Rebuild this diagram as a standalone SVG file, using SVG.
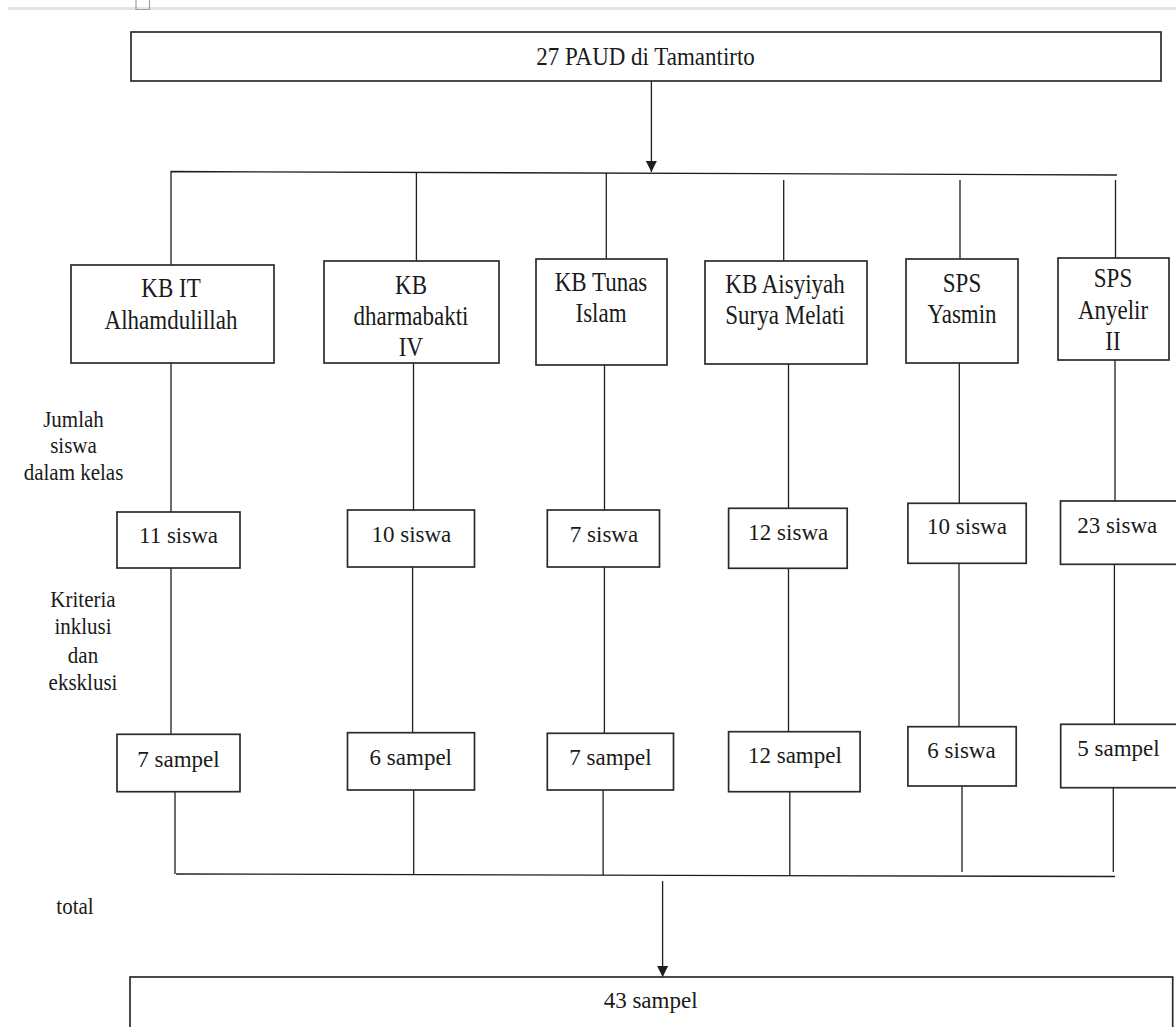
<svg xmlns="http://www.w3.org/2000/svg" width="1176" height="1027" viewBox="0 0 1176 1027">
<style>
.box{fill:#fff;stroke:#2b2b2b;stroke-width:1.7}
.t{font-family:'Liberation Serif','Times New Roman',Times,'DejaVu Serif',serif;font-size:23px;fill:#1a1a1a;text-anchor:middle}
.lbl{font-family:'Liberation Serif','Times New Roman',Times,'DejaVu Serif',serif;font-size:21px;fill:#1a1a1a;text-anchor:middle}
.ln{stroke:#1e1e1e;stroke-width:1.3;fill:none}
</style>
<defs>
<marker id="ah" viewBox="0 0 10 10" refX="10" refY="5" markerWidth="11" markerHeight="11" markerUnits="userSpaceOnUse" orient="auto">
<path d="M0,0 L10,5 L0,10 z" fill="#1e1e1e"/>
</marker>
</defs>
<rect width="1176" height="1027" fill="#fff"/>
<rect x="8" y="7" width="1168" height="3" fill="#e4e4e4"/>
<path d="M136 0 V9.5 H149.5 V0" fill="none" stroke="#a0a0a0" stroke-width="1.2"/>

<g id="connectors">
<line class="ln" x1="651.4" y1="81" x2="651.4" y2="172" marker-end="url(#ah)"/>
<path class="ln" d="M171 265 V171.5 L1117 175"/>
<line class="ln" x1="416.4" y1="172.5" x2="416.4" y2="261"/>
<line class="ln" x1="606.3" y1="173" x2="606.3" y2="259"/>
<line class="ln" x1="783.7" y1="180" x2="783.7" y2="261"/>
<line class="ln" x1="960" y1="180" x2="960" y2="259"/>
<line class="ln" x1="1115.5" y1="180" x2="1115.5" y2="258"/>
<line class="ln" x1="171" y1="363" x2="171" y2="512"/>
<line class="ln" x1="413.5" y1="363" x2="413.5" y2="510"/>
<line class="ln" x1="604.5" y1="365" x2="604.5" y2="510"/>
<line class="ln" x1="788.5" y1="364" x2="788.5" y2="508"/>
<line class="ln" x1="959.3" y1="363" x2="959.3" y2="503"/>
<line class="ln" x1="1115" y1="360" x2="1115" y2="501"/>
<line class="ln" x1="171" y1="568" x2="171" y2="734"/>
<line class="ln" x1="412.6" y1="567" x2="412.6" y2="733"/>
<line class="ln" x1="604.4" y1="567" x2="604.4" y2="733"/>
<line class="ln" x1="788.5" y1="568" x2="788.5" y2="732"/>
<line class="ln" x1="959" y1="563" x2="959" y2="727"/>
<line class="ln" x1="1114.4" y1="564" x2="1114.4" y2="724"/>
<line class="ln" x1="175" y1="792" x2="175" y2="874"/>
<line class="ln" x1="413.7" y1="790" x2="413.7" y2="874.5"/>
<line class="ln" x1="603.1" y1="790" x2="603.1" y2="875"/>
<line class="ln" x1="789.8" y1="792" x2="789.8" y2="875.5"/>
<line class="ln" x1="962" y1="786" x2="962" y2="872"/>
<line class="ln" x1="1113.3" y1="788" x2="1113.3" y2="872"/>
<line class="ln" x1="176" y1="874" x2="1115" y2="876.5"/>
<line class="ln" x1="662.6" y1="881" x2="662.6" y2="977" marker-end="url(#ah)"/>
</g>

<g id="n-top"><rect class="box" x="131" y="32" width="1030" height="49"/><text class="t" transform="translate(645.5 64.5) scale(1 1.08)">27 PAUD di Tamantirto</text></g>

<g id="n-kbit"><rect class="box" x="71" y="265" width="203" height="98"/><text class="t" transform="translate(171 297) scale(1 1.18)">KB IT</text><text class="t" transform="translate(171 328.5) scale(1 1.18)">Alhamdulillah</text></g>
<g id="n-dharma"><rect class="box" x="324" y="261" width="175" height="102"/><text class="t" transform="translate(411 293.5) scale(1 1.18)">KB</text><text class="t" transform="translate(411 325) scale(1 1.18)">dharmabakti</text><text class="t" transform="translate(411 355.5) scale(1 1.18)">IV</text></g>
<g id="n-tunas"><rect class="box" x="536" y="259" width="131" height="106"/><text class="t" transform="translate(601 290.5) scale(1 1.18)">KB Tunas</text><text class="t" transform="translate(601 322) scale(1 1.18)">Islam</text></g>
<g id="n-aisyiyah"><rect class="box" x="705" y="261" width="162" height="103"/><text class="t" transform="translate(785 293) scale(1 1.18)">KB Aisyiyah</text><text class="t" transform="translate(785 323.5) scale(1 1.18)">Surya Melati</text></g>
<g id="n-yasmin"><rect class="box" x="906" y="259" width="112" height="104"/><text class="t" transform="translate(962 292) scale(1 1.18)">SPS</text><text class="t" transform="translate(962 323) scale(1 1.18)">Yasmin</text></g>
<g id="n-anyelir"><rect class="box" x="1058" y="258" width="111" height="102"/><text class="t" transform="translate(1113 287) scale(1 1.18)">SPS</text><text class="t" transform="translate(1113 318.5) scale(1 1.18)">Anyelir</text><text class="t" transform="translate(1113 350) scale(1 1.18)">II</text></g>

<g id="lbl-jumlah"><text class="lbl" transform="translate(73.5 426.7) scale(1 1.1)">Jumlah</text><text class="lbl" transform="translate(73.5 453.3) scale(1 1.1)">siswa</text><text class="lbl" transform="translate(73.5 480) scale(1 1.1)">dalam kelas</text></g>
<g id="lbl-kriteria"><text class="lbl" transform="translate(83 606.7) scale(1 1.1)">Kriteria</text><text class="lbl" transform="translate(83 634) scale(1 1.1)">inklusi</text><text class="lbl" transform="translate(83 662.7) scale(1 1.1)">dan</text><text class="lbl" transform="translate(83 690) scale(1 1.1)">eksklusi</text></g>
<g id="lbl-total"><text class="lbl" transform="translate(75 914) scale(1 1.1)">total</text></g>

<g id="s1"><rect class="box" x="117" y="512" width="123" height="56"/><text class="t" x="178.5" y="543.3">11 siswa</text></g>
<g id="s2"><rect class="box" x="347.5" y="510" width="127" height="57"/><text class="t" x="411.4" y="541.7">10 siswa</text></g>
<g id="s3"><rect class="box" x="547.3" y="510" width="112.2" height="57"/><text class="t" x="604" y="541.7">7 siswa</text></g>
<g id="s4"><rect class="box" x="728.6" y="508.3" width="118.6" height="60"/><text class="t" x="788.3" y="540">12 siswa</text></g>
<g id="s5"><rect class="box" x="907.9" y="503.3" width="118.3" height="60"/><text class="t" x="967" y="534.3">10 siswa</text></g>
<g id="s6"><rect class="box" x="1060.5" y="501" width="125" height="63.3"/><text class="t" x="1117.3" y="533.3">23 siswa</text></g>

<g id="p1"><rect class="box" x="117" y="734.3" width="123" height="57.4"/><text class="t" x="178.5" y="766.7">7 sampel</text></g>
<g id="p2"><rect class="box" x="347.5" y="732.7" width="127" height="57.3"/><text class="t" x="410.8" y="765">6 sampel</text></g>
<g id="p3"><rect class="box" x="547.3" y="733.3" width="126.2" height="56.7"/><text class="t" x="610.5" y="765">7 sampel</text></g>
<g id="p4"><rect class="box" x="728.6" y="731.7" width="131.5" height="60"/><text class="t" x="794.9" y="763.3">12 sampel</text></g>
<g id="p5"><rect class="box" x="907.9" y="726.7" width="108.3" height="59.3"/><text class="t" x="961.5" y="757.7">6 siswa</text></g>
<g id="p6"><rect class="box" x="1060.7" y="724.3" width="125" height="63.4"/><text class="t" x="1118.5" y="756">5 sampel</text></g>

<g id="n-total"><rect class="box" x="130" y="977" width="1042.7" height="70"/><text class="t" x="650.6" y="1008.3">43 sampel</text></g>
</svg>
